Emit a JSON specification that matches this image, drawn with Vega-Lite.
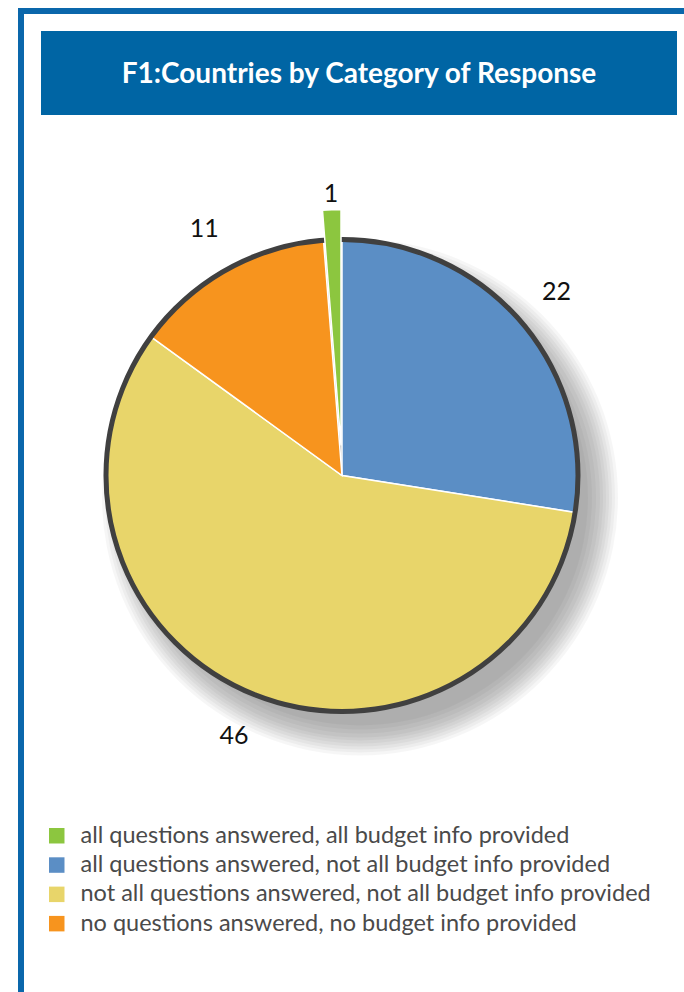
{
  "$schema": "https://vega.github.io/schema/vega-lite/v6.json",
  "background": "white",
  "padding": {"left": 18, "top": 8, "right": 0, "bottom": 0},
  "config": {"view": {"stroke": null}, "font": "Lato"},
  "datasets": {
    "responses": [
      {"category": "all questions answered, all budget info provided", "count": 1, "rank": 4},
      {"category": "all questions answered, not all budget info provided", "count": 22, "rank": 1},
      {"category": "not all questions answered, not all budget info provided", "count": 46, "rank": 2},
      {"category": "no questions answered, no budget info provided", "count": 11, "rank": 3}
    ],
    "heading": [{"text": "F1:Countries by Category of Response"}]
  },
  "spacing": 0,
  "vconcat": [
    {
      "data": {"name": "heading"},
      "width": 666, "height": 6,
      "mark": {"type": "rect", "color": "#0a67ab"}
    },
    {
      "spacing": 17,
      "hconcat": [
        {
          "data": {"name": "heading"},
          "width": 6, "height": 978,
          "mark": {"type": "rect", "color": "#0a67ab"}
        },
        {
          "spacing": 0,
          "vconcat": [
            {
              "data": {"name": "heading"},
              "width": 10, "height": 17,
              "mark": {"type": "rect", "opacity": 0}
            },
            {
              "data": {"name": "heading"},
              "width": 636, "height": 84,
              "view": {"fill": "#0065a4", "stroke": null},
              "mark": {"type": "text", "font": "Lato", "fontWeight": "bold", "fontSize": 28, "color": "white", "align": "center", "baseline": "middle", "dy": 2},
              "encoding": {"text": {"field": "text"}}
            },
            {
              "data": {"name": "responses"},
              "width": 602, "height": 721,
              "transform": [
                {"stack": "count", "groupby": [], "sort": [{"field": "rank"}], "as": ["s0", "s1"]}
              ],
              "layer": [
                {"transform": [{"filter": "datum.rank == 1"}], "mark": {"type": "arc", "theta": 0, "theta2": 6.2832, "radius": 258, "color": "black", "opacity": 0.035, "xOffset": 18, "yOffset": 22}},
                {"transform": [{"filter": "datum.rank == 1"}], "mark": {"type": "arc", "theta": 0, "theta2": 6.2832, "radius": 255, "color": "black", "opacity": 0.035, "xOffset": 18, "yOffset": 22}},
                {"transform": [{"filter": "datum.rank == 1"}], "mark": {"type": "arc", "theta": 0, "theta2": 6.2832, "radius": 252, "color": "black", "opacity": 0.035, "xOffset": 18, "yOffset": 22}},
                {"transform": [{"filter": "datum.rank == 1"}], "mark": {"type": "arc", "theta": 0, "theta2": 6.2832, "radius": 249, "color": "black", "opacity": 0.035, "xOffset": 18, "yOffset": 22}},
                {"transform": [{"filter": "datum.rank == 1"}], "mark": {"type": "arc", "theta": 0, "theta2": 6.2832, "radius": 246, "color": "black", "opacity": 0.035, "xOffset": 18, "yOffset": 22}},
                {"transform": [{"filter": "datum.rank == 1"}], "mark": {"type": "arc", "theta": 0, "theta2": 6.2832, "radius": 243, "color": "black", "opacity": 0.035, "xOffset": 18, "yOffset": 22}},
                {"transform": [{"filter": "datum.rank == 1"}], "mark": {"type": "arc", "theta": 0, "theta2": 6.2832, "radius": 240, "color": "black", "opacity": 0.035, "xOffset": 18, "yOffset": 22}},
                {"transform": [{"filter": "datum.rank == 1"}], "mark": {"type": "arc", "theta": 0, "theta2": 6.2832, "radius": 236, "color": "black", "opacity": 0.035, "xOffset": 18, "yOffset": 22}},
                {"transform": [{"filter": "datum.rank == 1"}], "mark": {"type": "arc", "theta": 0, "theta2": 6.2832, "radius": 232, "color": "black", "opacity": 0.035, "xOffset": 18, "yOffset": 22}},
                {"transform": [{"filter": "datum.rank == 1"}], "mark": {"type": "arc", "theta": 0, "theta2": 6.2832, "radius": 228, "color": "black", "opacity": 0.035, "xOffset": 18, "yOffset": 22}},
                {
                  "transform": [{"filter": "datum.rank != 4"}],
                  "mark": {"type": "arc", "radius": 236, "stroke": "white", "strokeWidth": 1.5},
                  "encoding": {
                    "theta": {"field": "s0", "type": "quantitative", "scale": {"domain": [0, 80]}},
                    "theta2": {"field": "s1"},
                    "color": {
                      "field": "category", "type": "nominal",
                      "scale": {
                        "domain": [
                          "all questions answered, all budget info provided",
                          "all questions answered, not all budget info provided",
                          "not all questions answered, not all budget info provided",
                          "no questions answered, no budget info provided"
                        ],
                        "range": ["#8cc63f", "#5b8ec5", "#e8d56a", "#f7941e"]
                      },
                      "legend": {
                        "title": null, "orient": "none", "legendX": 27, "legendY": 816,
                        "symbolType": "square", "symbolSize": 240, "symbolStrokeWidth": 0,
                        "labelFont": "Lato", "labelFontSize": 23.5, "labelColor": "#4a4a4a",
                        "labelLimit": 0, "labelOffset": 12, "rowPadding": 4.3
                      }
                    }
                  }
                },
                {"transform": [{"filter": "datum.rank == 1"}], "mark": {"type": "arc", "theta": 0, "theta2": 6.2832, "radius": 236, "filled": false, "stroke": "#404040", "strokeWidth": 5}},
                {
                  "transform": [{"filter": "datum.rank == 4"}],
                  "mark": {"type": "arc", "radius": 236, "stroke": "white", "strokeWidth": 1.5, "xOffset": -1, "yOffset": -30},
                  "encoding": {
                    "theta": {"field": "s0", "type": "quantitative"},
                    "theta2": {"field": "s1"},
                    "color": {"field": "category", "type": "nominal"}
                  }
                },
                {
                  "mark": {"type": "text", "radius": 282, "font": "Lato", "fontSize": 25, "color": "#111111"},
                  "encoding": {
                    "theta": {"field": "count", "type": "quantitative", "stack": true},
                    "order": {"field": "rank"},
                    "text": {"field": "count", "type": "quantitative"}
                  }
                }
              ]
            }
          ]
        }
      ]
    }
  ]
}
